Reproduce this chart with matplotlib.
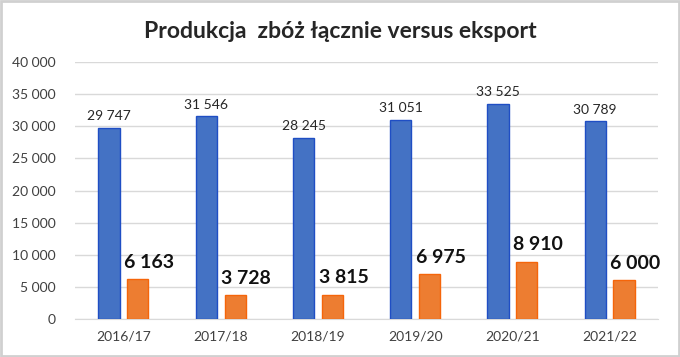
import matplotlib.pyplot as plt
from matplotlib.patches import Rectangle
import numpy as np

seasons = ['2016/17', '2017/18', '2018/19', '2019/20', '2020/21', '2021/22']
produkcja = [29747, 31546, 28245, 31051, 33525, 30789]
eksport = [6163, 3728, 3815, 6975, 8910, 6000]
y_ticks = [0, 5000, 10000, 15000, 20000, 25000, 30000, 35000, 40000]


def fmt(v):
    # polish thousands separator (space)
    return f'{v:,}'.replace(',', ' ')


plt.rcParams['font.family'] = ['Lato', 'DejaVu Sans']

fig = plt.figure(figsize=(6.8, 3.57), dpi=100)
ax = fig.add_axes([0.110, 0.1064, 0.858, 0.7199])

x = np.arange(len(seasons))
w = 0.217
off = 0.148

ax.bar(x - off, produkcja, w, color='#4472C4', edgecolor='#1F4EC4', linewidth=1.0, zorder=3)
ax.bar(x + off, eksport, w, color='#ED7D31', edgecolor='#F5650A', linewidth=1.0, zorder=3)

for i in range(len(seasons)):
    ax.annotate(fmt(produkcja[i]), (x[i] - off, produkcja[i]), xytext=(0, 4),
                textcoords='offset points', ha='center', va='bottom',
                fontsize=10, color='#262626')
    ax.annotate(fmt(eksport[i]), (x[i] + off, eksport[i]), xytext=(8, 6),
                textcoords='offset points', ha='center', va='bottom',
                fontsize=14, fontweight='bold', color='#111111')

ax.set_xlim(-0.5, len(seasons) - 0.5)
ax.set_ylim(0, 40000)
ax.set_yticks(y_ticks)
ax.set_yticklabels([fmt(v) for v in y_ticks])
ax.set_xticks(x)
ax.set_xticklabels(seasons)
ax.tick_params(axis='both', length=0, labelsize=10, labelcolor='#404040')
ax.tick_params(axis='y', pad=14)
ax.tick_params(axis='x', pad=8)

ax.grid(axis='y', color='#D9D9D9', linewidth=1.0, zorder=0)
for s in ['top', 'right', 'left']:
    ax.spines[s].set_visible(False)
ax.spines['bottom'].set_color('#D9D9D9')

fig.text(0.5, 0.912, 'Produkcja  zbóż łącznie versus eksport', ha='center', va='center',
         fontsize=16.5, fontweight='bold', color='#262626')

fig.patches.append(Rectangle((0.002, 0.003), 0.996, 0.994, transform=fig.transFigure,
                             fill=False, edgecolor='#D0D0D0', linewidth=2))

fig.savefig('out.png', dpi=100)
